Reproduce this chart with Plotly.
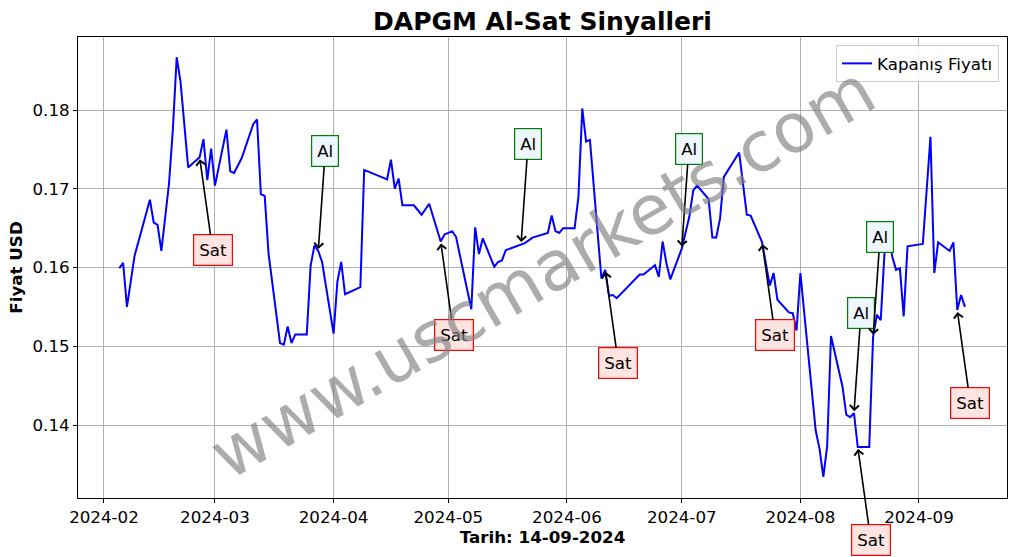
import plotly.graph_objects as go

# ---- data ----
dates = [
    "2024-02-05", "2024-02-06", "2024-02-07", "2024-02-09", "2024-02-13", "2024-02-14",
    "2024-02-15", "2024-02-16", "2024-02-18", "2024-02-19", "2024-02-20", "2024-02-21",
    "2024-02-23", "2024-02-26", "2024-02-27", "2024-02-28", "2024-02-29", "2024-03-01",
    "2024-03-04", "2024-03-05", "2024-03-06", "2024-03-08", "2024-03-11", "2024-03-12",
    "2024-03-13", "2024-03-14", "2024-03-15", "2024-03-18", "2024-03-19", "2024-03-20",
    "2024-03-21", "2024-03-22", "2024-03-25", "2024-03-26", "2024-03-27", "2024-03-28",
    "2024-03-29",
    "2024-04-01", "2024-04-02", "2024-04-03", "2024-04-04", "2024-04-06", "2024-04-08",
    "2024-04-09", "2024-04-15", "2024-04-16", "2024-04-17", "2024-04-18", "2024-04-19",
    "2024-04-22", "2024-04-24", "2024-04-26", "2024-04-29", "2024-04-30", "2024-05-02",
    "2024-05-03", "2024-05-06", "2024-05-07", "2024-05-08", "2024-05-09", "2024-05-10",
    "2024-05-13", "2024-05-14", "2024-05-15", "2024-05-16", "2024-05-17", "2024-05-20",
    "2024-05-21", "2024-05-23", "2024-05-27", "2024-05-28", "2024-05-29", "2024-05-30",
    "2024-05-31", "2024-06-03", "2024-06-04", "2024-06-05", "2024-06-06", "2024-06-07",
    "2024-06-10", "2024-06-11", "2024-06-12", "2024-06-13", "2024-06-14", "2024-06-20",
    "2024-06-21", "2024-06-24", "2024-06-25", "2024-06-26", "2024-06-27", "2024-06-28",
    "2024-07-01", "2024-07-03", "2024-07-04", "2024-07-05", "2024-07-08", "2024-07-09",
    "2024-07-10", "2024-07-11", "2024-07-12", "2024-07-16", "2024-07-18", "2024-07-19",
    "2024-07-22", "2024-07-24", "2024-07-25", "2024-07-26", "2024-07-29", "2024-07-30",
    "2024-07-31", "2024-08-01", "2024-08-05", "2024-08-06", "2024-08-07", "2024-08-08",
    "2024-08-09", "2024-08-12", "2024-08-13", "2024-08-14", "2024-08-15", "2024-08-16",
    "2024-08-19", "2024-08-20", "2024-08-21", "2024-08-22", "2024-08-23", "2024-08-24",
    "2024-08-25", "2024-08-26", "2024-08-27", "2024-08-28", "2024-08-29", "2024-09-02",
    "2024-09-04", "2024-09-05", "2024-09-06", "2024-09-09", "2024-09-10", "2024-09-11",
    "2024-09-12", "2024-09-13",
]
prices = [
    0.1599, 0.1606, 0.1550, 0.1615, 0.1686, 0.1657,
    0.1654, 0.1621, 0.1707, 0.1775, 0.1867, 0.1836,
    0.1727, 0.1740, 0.1763, 0.1711, 0.1751, 0.1704,
    0.1775, 0.1722, 0.1720, 0.1739, 0.1782, 0.1788,
    0.1693, 0.1691, 0.1618, 0.1504, 0.1502, 0.1525,
    0.1504, 0.1515, 0.1515, 0.1602, 0.1628, 0.1621,
    0.1607,
    0.1516, 0.1582, 0.1607, 0.1566, 0.1571, 0.1575,
    0.1724, 0.1712, 0.1737, 0.1700, 0.1713, 0.1679,
    0.1679, 0.1667, 0.1681, 0.1633, 0.1642, 0.1646,
    0.1639, 0.1567, 0.1547, 0.1651, 0.1617, 0.1637,
    0.1601, 0.1607, 0.1609, 0.1622, 0.1624, 0.1630,
    0.1631, 0.1638, 0.1644, 0.1666, 0.1646, 0.1644,
    0.1650, 0.1650, 0.1690, 0.1802, 0.1760, 0.1762,
    0.1586, 0.1597, 0.1564, 0.1565, 0.1561, 0.1591,
    0.1591, 0.1603, 0.1588, 0.1633, 0.1605, 0.1585,
    0.1624, 0.1665, 0.1698, 0.1704, 0.1687, 0.1638,
    0.1638, 0.1662, 0.1715, 0.1746, 0.1667, 0.1666,
    0.1632, 0.1577, 0.1593, 0.1559, 0.1543, 0.1542,
    0.1520, 0.1593, 0.1393, 0.1370, 0.1334, 0.1373,
    0.1513, 0.1449, 0.1413, 0.1410, 0.1415, 0.1372,
    0.1372, 0.1512, 0.1540, 0.1533, 0.1620, 0.1645,
    0.1614, 0.1597, 0.1599, 0.1538, 0.1627, 0.1630,
    0.1766, 0.1593, 0.1632, 0.1621, 0.1632, 0.1546,
    0.1565, 0.1550,
]
signal_dates = ["2024-02-26", "2024-03-28", "2024-04-29", "2024-05-20", "2024-06-11",
                "2024-07-01", "2024-07-22", "2024-08-15", "2024-08-16", "2024-08-20",
                "2024-09-11"]
signal_labels = ["Sat", "Al", "Sat", "Al", "Sat", "Al", "Sat", "Al", "Sat", "Al", "Sat"]

x_tick_vals = ["2024-02-01", "2024-03-01", "2024-04-01", "2024-05-01", "2024-06-01",
               "2024-07-01", "2024-08-01", "2024-09-01"]
x_tick_text = ["2024-02", "2024-03", "2024-04", "2024-05", "2024-06", "2024-07",
               "2024-08", "2024-09"]
y_tick_vals = [0.14, 0.15, 0.16, 0.17, 0.18]
y_tick_text = ["0.14", "0.15", "0.16", "0.17", "0.18"]

FONT = "DejaVu Sans"
FS = 16.7

fig = go.Figure()
fig.add_trace(go.Scatter(
    x=dates, y=prices, mode="lines", name="Kapanış Fiyatı",
    line=dict(color="blue", width=2),
))

price_by_date = dict(zip(dates, prices))
styles = {
    "Sat": dict(ax=13, ay=93, border="red", bg="#ffe4e1"),
    "Al": dict(ax=7, ay=-100, border="green", bg="#eef6ff"),
}
for d, lab in zip(signal_dates, signal_labels):
    st = styles[lab]
    fig.add_annotation(
        x=d, y=price_by_date[d], xref="x", yref="y",
        text=lab, showarrow=True, ax=st["ax"], ay=st["ay"],
        arrowhead=4, arrowsize=1.1, arrowwidth=1.6, arrowcolor="black", standoff=2,
        font=dict(family=FONT, size=FS, color="black"),
        bgcolor=st["bg"], bordercolor=st["border"], borderwidth=1.2, borderpad=5,
    )

# watermark
fig.add_annotation(
    text="www.uscmarkets.com", xref="paper", yref="paper", x=0.5005, y=0.49,
    showarrow=False, textangle=-30,
    font=dict(family=FONT, size=69, color="rgba(128,128,128,0.65)"),
)

fig.update_layout(
    width=1017, height=557,
    margin=dict(l=78, r=10, t=37, b=59, pad=0),
    paper_bgcolor="white", plot_bgcolor="white",
    font=dict(family=FONT, size=FS, color="black"),
    title=dict(text="<b>DAPGM Al-Sat Sinyalleri</b>", x=0.5, xref="paper",
               y=1 - 21 / 557, yref="container", xanchor="center", yanchor="middle",
               font=dict(family=FONT, size=25, color="black")),
    showlegend=True,
    legend=dict(x=0.9914, y=0.9826, xanchor="right", yanchor="top",
                bgcolor="rgba(255,255,255,0.8)", bordercolor="#cccccc", borderwidth=1,
                font=dict(family=FONT, size=FS, color="black"),
                tracegroupgap=0),
    xaxis=dict(
        type="date", range=["2024-01-25 05:00", "2024-09-24"],
        tickvals=x_tick_vals, ticktext=x_tick_text,
        showgrid=True, gridcolor="#b0b0b0", gridwidth=1,
        showline=True, linecolor="black", linewidth=1, mirror=True,
        ticks="outside", ticklen=4, tickcolor="black",
        tickfont=dict(family=FONT, size=FS, color="black"),
        title=dict(text="<b>Tarih: 14-09-2024</b>", standoff=2,
                   font=dict(family=FONT, size=FS, color="black")),
        zeroline=False,
    ),
    yaxis=dict(
        range=[0.13073, 0.18927],
        tickvals=y_tick_vals, ticktext=y_tick_text,
        showgrid=True, gridcolor="#b0b0b0", gridwidth=1,
        showline=True, linecolor="black", linewidth=1, mirror=True,
        ticks="outside", ticklen=4, tickcolor="black",
        tickfont=dict(family=FONT, size=FS, color="black"),
        title=dict(text="<b>Fiyat USD</b>", standoff=5,
                   font=dict(family=FONT, size=FS, color="black")),
        zeroline=False,
    ),
)

fig.write_html("out.html")
